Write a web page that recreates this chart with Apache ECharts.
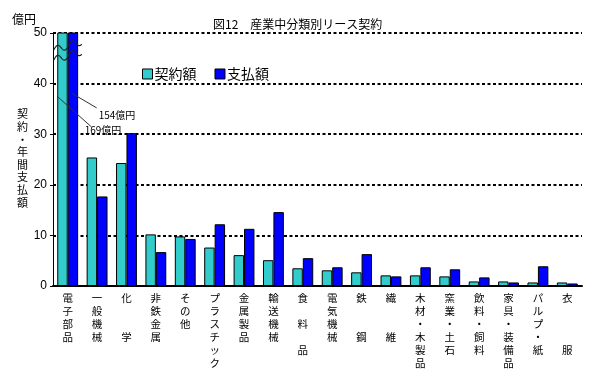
<!DOCTYPE html>
<html><head><meta charset="utf-8">
<script src="https://cdn.jsdelivr.net/npm/echarts@6/dist/echarts.min.js"></script>
<style>html,body{margin:0;padding:0;background:#fff}#c{width:589px;height:382px}</style>
</head><body><div id="c"></div>
<script>
const categories = ['電子部品','一般機械','化学','非鉄金属','その他','プラスチック','金属製品','輸送機械','食料品','電気機械','鉄鋼','繊維','木材・木製品','窯業・土石','飲料・飼料','家具・装備品','パルプ・紙','衣服'];
const tickLabels = ['電\n子\n部\n品','一\n般\n機\n械','化\n\n\n学','非\n鉄\n金\n属','そ\nの\n他','プ\nラ\nス\nチ\nッ\nク','金\n属\n製\n品','輸\n送\n機\n械','食\n\n料\n\n品','電\n気\n機\n械','鉄\n\n\n鋼','繊\n\n\n維','木\n材\n・\n木\n製\n品','窯\n業\n・\n土\n石','飲\n料\n・\n飼\n料','家\n具\n・\n装\n備\n品','パ\nル\nプ\n・\n紙','衣\n\n\n\n服'];
const contract = [169, 25.4, 24.3, 10.2, 9.8, 7.6, 6.1, 5.1, 3.5, 3.1, 2.7, 2.1, 2.1, 1.9, 0.9, 0.9, 0.7, 0.7];
const payment  = [154, 17.7, 30.2, 6.7, 9.3, 12.2, 11.3, 14.6, 5.5, 3.7, 6.3, 1.9, 3.7, 3.3, 1.7, 0.7, 3.9, 0.5];
const seriesNames = ['契約額','支払額'];
const yTicks = [0, 10, 20, 30, 40, 50];

const FONT = '"Noto Sans CJK JP", sans-serif';
const chart = echarts.init(document.getElementById('c'), null, {renderer:'canvas'});
chart.setOption({
  animation: false,
  backgroundColor: '#fff',
  textStyle: {fontFamily: FONT, color: '#000'},
  title: [
    {text: '図12　産業中分類別リース契約', left: 208, top: 13,
     textStyle: {fontSize: 12, fontWeight: 'normal', color: '#000', fontFamily: FONT}},
    {text: '億円', left: 7, top: 8,
     textStyle: {fontSize: 12, fontWeight: 'normal', color: '#000', fontFamily: FONT}},
    {text: '契\n約\n・\n年\n間\n支\n払\n額', left: 12, top: 103,
     textStyle: {fontSize: 11, fontWeight: 'normal', color: '#000', fontFamily: FONT, lineHeight: 12.6}}
  ],
  legend: {
    data: seriesNames, left: 137, top: 62, icon: 'rect',
    itemWidth: 10, itemHeight: 10, itemGap: 18,
    textStyle: {fontSize: 14, color: '#000', fontFamily: FONT, padding: [0,0,0,-3]},
    itemStyle: {borderColor: '#000', borderWidth: 1}
  },
  grid: {left: 53, right: 7, top: 33, bottom: 96},
  xAxis: {
    type: 'category', data: categories,
    axisLine: {lineStyle: {color: '#000', width: 2}},
    axisTick: {inside: true, length: 3, lineStyle: {color: '#000'}},
    axisLabel: {
      interval: 0, color: '#000', fontSize: 10.5, lineHeight: 13, margin: 6,
      fontFamily: FONT, verticalAlign: 'top',
      formatter: (v, i) => tickLabels[i]
    }
  },
  yAxis: {
    type: 'value', min: 0, max: 50, interval: 10,
    axisLine: {show: true, lineStyle: {color: '#000', width: 1}},
    axisTick: {show: true, length: 3, lineStyle: {color: '#000'}},
    axisLabel: {color: '#000', fontSize: 12, margin: 6, fontFamily: 'Liberation Sans, sans-serif',
      formatter: v => yTicks.includes(v) ? String(v) : ''},
    splitLine: {lineStyle: {color: '#000', width: 2, type: [3, 2.5]}}
  },
  series: [
    {name: seriesNames[0], type: 'bar', data: contract, barGap: '0%', barCategoryGap: '29%', clip: true,
     itemStyle: {color: '#33CCCC', borderColor: '#000', borderWidth: 1}},
    {name: seriesNames[1], type: 'bar', data: payment, barGap: '0%', barCategoryGap: '29%', clip: true,
     itemStyle: {color: '#0000FF', borderColor: '#000', borderWidth: 1}}
  ]
});

// Annotations for the off-scale first category
function px(cat, val) { return chart.convertToPixel({gridIndex: 0}, [cat, val]); }
const c0 = px(0, 0)[0];
const topY = px(0, 50)[1];
function wave(yOff) {
  const pts = [];
  for (let dx = -14; dx <= 14; dx += 0.5) {
    const t = dx + 14;
    const y = topY + yOff - t * 0.3 + 3.5 * Math.sin(t / 15 * 2 * Math.PI + Math.PI);
    pts.push([c0 + dx, y]);
  }
  return pts;
}
const a1 = px(0, 37.4), a2 = px(0, 31.4), l1 = px(0, 30.8);
const b1 = px(0, 38.1), b2 = px(0, 35.2), l2 = px(0, 33.8);
chart.setOption({
  graphic: [
    {type: 'polyline', shape: {points: wave(17)}, style: {stroke: '#222', lineWidth: 1.2, fill: null}, z: 100},
    {type: 'polyline', shape: {points: wave(27)}, style: {stroke: '#222', lineWidth: 1.2, fill: null}, z: 100},
    {type: 'line', shape: {x1: c0 - 10, y1: a1[1], x2: c0 + 24, y2: a2[1]}, style: {stroke: '#333', lineWidth: 1}, z: 100},
    {type: 'line', shape: {x1: c0 + 4, y1: b1[1], x2: c0 + 29, y2: b2[1]}, style: {stroke: '#333', lineWidth: 1}, z: 100},
    {type: 'text', x: c0 + 17, y: l1[1], style: {text: '169億円', fontSize: 10, fontFamily: FONT, fill: '#000', verticalAlign: 'middle'}, z: 100},
    {type: 'text', x: c0 + 31, y: l2[1], style: {text: '154億円', fontSize: 10, fontFamily: FONT, fill: '#000', verticalAlign: 'middle'}, z: 100}
  ]
});
</script>
</body></html>
